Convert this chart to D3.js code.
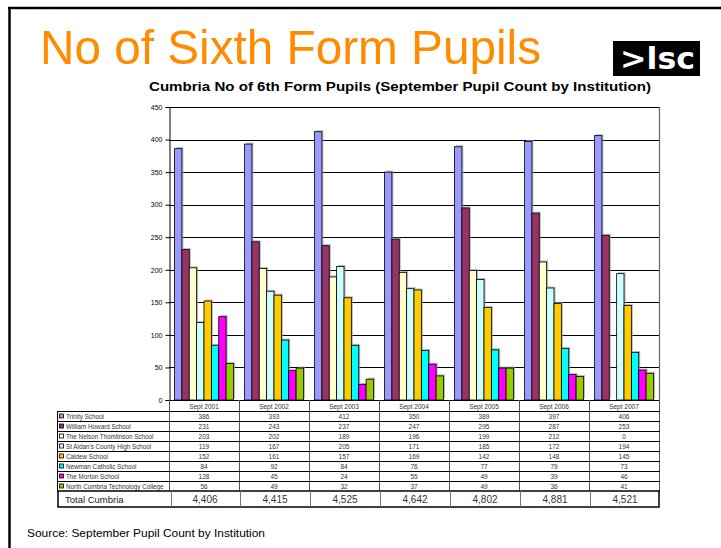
<!DOCTYPE html>
<html>
<head>
<meta charset="utf-8">
<script src="https://cdn.jsdelivr.net/npm/d3@7"></script>
<style>
  html, body { margin: 0; padding: 0; background: #fff; }
  svg { display: block; font-family: "Liberation Sans", Arial, sans-serif; }
</style>
</head>
<body>
<svg id="chart" width="721" height="548"></svg>
<script>
// Sixth form pupil counts per institution, September census
const years = ["Sept 2001", "Sept 2002", "Sept 2003", "Sept 2004", "Sept 2005", "Sept 2006", "Sept 2007"];
const schools = [
  "Trinity School",
  "William Howard School",
  "The Nelson Thomlinson School",
  "St Aidan's County High School",
  "Caldew School",
  "Newman Catholic School",
  "The Morton School",
  "North Cumbria Technology College"
];
const trinity          = [386, 393, 412, 350, 389, 397, 406];
const williamHoward    = [231, 243, 237, 247, 295, 287, 253];
const nelsonThomlinson = [203, 202, 189, 196, 199, 212, 0];
const stAidans         = [119, 167, 205, 171, 185, 172, 194];
const caldew           = [152, 161, 157, 169, 142, 148, 145];
const newman           = [84, 92, 84, 76, 77, 79, 73];
const morton           = [128, 45, 24, 55, 49, 39, 46];
const northCumbria     = [56, 49, 32, 37, 49, 36, 41];
const totals           = [4406, 4415, 4525, 4642, 4802, 4881, 4521];
const yTicks           = [0, 50, 100, 150, 200, 250, 300, 350, 400, 450];
const colors = ["#9999ff", "#993366", "#ffffcc", "#ccffff", "#ffcc00", "#00ffff", "#ff00ff", "#99cc00"];

const series = [trinity, williamHoward, nelsonThomlinson, stAidans, caldew, newman, morton, northCumbria];

const svg = d3.select("#chart");

// page frame (top and left rules)
svg.append("line").attr("x1", 9.5).attr("y1", 7).attr("x2", 9.5).attr("y2", 548)
  .attr("stroke", "#000").attr("stroke-width", 2.5);
svg.append("line").attr("x1", 8).attr("y1", 8).attr("x2", 721).attr("y2", 8)
  .attr("stroke", "#000").attr("stroke-width", 2.5);

// slide heading
svg.append("text").attr("x", 40).attr("y", 64)
  .attr("font-size", 49).attr("fill", "#ff8c00")
  .attr("textLength", 501).attr("lengthAdjust", "spacingAndGlyphs")
  .text("No of Sixth Form Pupils");

// logo block
svg.append("rect").attr("x", 613).attr("y", 41).attr("width", 87).attr("height", 35).attr("fill", "#000");
svg.append("text").attr("x", 620).attr("y", 69)
  .attr("font-family", "'DejaVu Sans', sans-serif").attr("font-weight", "bold")
  .attr("font-size", 30).attr("fill", "#fff")
  .attr("textLength", 75).attr("lengthAdjust", "spacingAndGlyphs").text(">lsc");

// chart title
svg.append("text").attr("x", 400).attr("y", 91).attr("text-anchor", "middle")
  .attr("font-size", 12).attr("font-weight", "bold").attr("fill", "#000")
  .attr("textLength", 502).attr("lengthAdjust", "spacingAndGlyphs")
  .text("Cumbria No of 6th Form Pupils (September Pupil Count by Institution)");

// scales
const plotLeft = 169, plotRight = 659, plotTop = 107, plotBottom = 400;
const x0 = d3.scaleBand().domain(years).range([plotLeft, plotRight]).paddingInner(0).paddingOuter(0);
const x1 = d3.scaleBand().domain(d3.range(schools.length)).range([0, x0.bandwidth()])
  .paddingInner(0).paddingOuter(0.75);
const y = d3.scaleLinear().domain([0, 450]).range([plotBottom, plotTop]);

// gridlines
svg.append("g").selectAll("line").data(yTicks.filter(d => d > 0)).join("line")
  .attr("x1", plotLeft).attr("x2", plotRight)
  .attr("y1", d => Math.round(y(d)) + 0.5).attr("y2", d => Math.round(y(d)) + 0.5)
  .attr("stroke", "#000").attr("stroke-width", 1);
// plot area right edge
svg.append("line").attr("x1", plotRight + 0.5).attr("x2", plotRight + 0.5)
  .attr("y1", plotTop).attr("y2", plotBottom).attr("stroke", "#666").attr("stroke-width", 1.2);

// bars
const groups = svg.append("g").selectAll("g").data(years).join("g")
  .attr("transform", d => `translate(${x0(d)},0)`);
groups.each(function (yr, yi) {
  const g = d3.select(this);
  const vals = series.map((s, si) => ({ si, v: s[yi] })).filter(d => d.v > 0);
  g.selectAll("rect.shadow").data(vals).join("rect").attr("class", "shadow")
    .attr("x", d => x1(d.si) + 1.5).attr("y", d => y(d.v) - 1.5)
    .attr("width", x1.bandwidth()).attr("height", d => plotBottom - y(d.v))
    .attr("fill", "#9a9a9a").attr("opacity", 0.7);
  g.selectAll("rect.bar").data(vals).join("rect").attr("class", "bar")
    .attr("x", d => x1(d.si)).attr("y", d => y(d.v))
    .attr("width", x1.bandwidth()).attr("height", d => plotBottom - y(d.v))
    .attr("fill", d => colors[d.si]).attr("stroke", "#000").attr("stroke-width", 0.8);
});

// y axis
const yAxis = d3.axisLeft(y).tickValues(yTicks).tickSize(4).tickPadding(3);
const ya = svg.append("g").attr("transform", `translate(${plotLeft + 0.5},0)`).call(yAxis);
ya.select(".domain").attr("stroke", "#000");
ya.selectAll(".tick line").attr("stroke", "#000");
ya.selectAll(".tick text").attr("font-size", 7).attr("fill", "#000")
  .attr("font-family", "'Liberation Sans', Arial, sans-serif");

// x axis line
svg.append("line").attr("x1", plotLeft).attr("x2", plotRight + 1)
  .attr("y1", plotBottom + 0.5).attr("y2", plotBottom + 0.5).attr("stroke", "#000").attr("stroke-width", 1.2);

// data table
const tableLeft = 57, headerTop = 400, rowH = 10, rowsTop = 411;
const rowsBottom = rowsTop + rowH * schools.length;
const table = svg.append("g");

// column dividers
table.selectAll("line.col").data(years.map(d => x0(d)).concat([plotRight])).join("line")
  .attr("class", "col")
  .attr("x1", d => Math.round(d) + 0.5).attr("x2", d => Math.round(d) + 0.5)
  .attr("y1", headerTop).attr("y2", rowsBottom)
  .attr("stroke", "#555").attr("stroke-width", 1);
// row dividers
table.selectAll("line.row").data(d3.range(schools.length + 1)).join("line")
  .attr("class", "row")
  .attr("x1", tableLeft).attr("x2", plotRight + 1)
  .attr("y1", d => rowsTop + d * rowH + 0.5).attr("y2", d => rowsTop + d * rowH + 0.5)
  .attr("stroke", "#000").attr("stroke-width", 1);
table.append("line").attr("x1", tableLeft + 0.5).attr("x2", tableLeft + 0.5)
  .attr("y1", rowsTop).attr("y2", rowsBottom).attr("stroke", "#000");

// header labels
table.selectAll("text.head").data(years).join("text").attr("class", "head")
  .attr("x", d => x0(d) + x0.bandwidth() / 2).attr("y", headerTop + 8.5)
  .attr("text-anchor", "middle").attr("font-size", 6.5).attr("fill", "#333").text(d => d);

// legend keys and names
const legendRows = table.selectAll("g.leg").data(schools).join("g").attr("class", "leg")
  .attr("transform", (d, i) => `translate(0,${rowsTop + i * rowH})`);
legendRows.append("rect").attr("x", 59.5).attr("y", 3).attr("width", 4).attr("height", 4)
  .attr("fill", (d, i) => colors[i]).attr("stroke", "#000").attr("stroke-width", 0.8);
legendRows.append("text").attr("x", 66).attr("y", 7.5).attr("font-size", 6.3).attr("fill", "#333")
  .text(d => d);

// cell values
series.forEach((s, si) => {
  table.selectAll(`text.v${si}`).data(s).join("text").attr("class", `v${si}`)
    .attr("x", (d, i) => x0(years[i]) + x0.bandwidth() / 2)
    .attr("y", rowsTop + si * rowH + 7.5)
    .attr("text-anchor", "middle").attr("font-size", 6.5).attr("fill", "#333").text(d => d);
});

// totals row
const totTop = 491, totBottom = 507;
const tot = svg.append("g");
tot.append("rect").attr("x", 58).attr("y", totTop).attr("width", plotRight - 58).attr("height", totBottom - totTop)
  .attr("fill", "#fff").attr("stroke", "#000").attr("stroke-width", 1.5);
tot.selectAll("line").data(years.map(d => x0(d))).join("line")
  .attr("x1", (d, i) => (i === 0 ? d + 2.5 : d + 1.5)).attr("x2", (d, i) => (i === 0 ? d + 2.5 : d + 1.5))
  .attr("y1", totTop).attr("y2", totBottom).attr("stroke", "#777").attr("stroke-width", 1);
tot.append("text").attr("x", 65).attr("y", totTop + 12).attr("font-size", 9.5).attr("fill", "#222")
  .text("Total Cumbria");
tot.selectAll("text.t").data(totals).join("text").attr("class", "t")
  .attr("x", (d, i) => x0(years[i]) + x0.bandwidth() / 2 + 1).attr("y", totTop + 12)
  .attr("text-anchor", "middle").attr("font-size", 10).attr("fill", "#333").text(d => d3.format(",")(d));

// source note
svg.append("text").attr("x", 27).attr("y", 537).attr("font-size", 11).attr("fill", "#000")
  .attr("textLength", 238).attr("lengthAdjust", "spacingAndGlyphs")
  .text("Source: September Pupil Count by Institution");
</script>
</body>
</html>
